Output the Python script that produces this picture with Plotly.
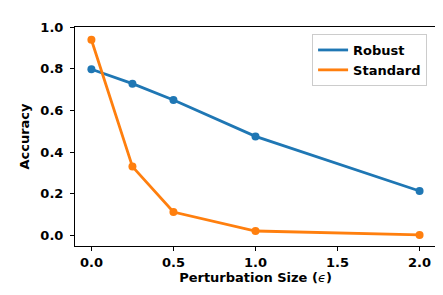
import plotly.graph_objects as go

eps = [0.0, 0.25, 0.5, 1.0, 2.0]
robust = [0.797, 0.728, 0.650, 0.475, 0.213]
standard = [0.939, 0.330, 0.112, 0.021, 0.002]
series_names = ["Robust", "Standard"]
colors = ["#1f77b4", "#ff7f0e"]
xticks = [0.0, 0.5, 1.0, 1.5, 2.0]
yticks = [0.0, 0.2, 0.4, 0.6, 0.8, 1.0]

fig = go.Figure()
for name, ys, c in zip(series_names, [robust, standard], colors):
    fig.add_trace(go.Scatter(x=eps, y=ys, mode="lines", name=name,
                             line=dict(color=c, width=2.8)))
    fig.add_trace(go.Scatter(x=eps, y=ys, mode="markers", showlegend=False,
                             marker=dict(color=c, size=8, line=dict(width=0))))

font = dict(family="DejaVu Sans", size=13, color="black", weight="bold")
axis_common = dict(showline=True, linecolor="black", linewidth=1, mirror=True,
                   ticks="outside", ticklen=4, tickwidth=1, tickcolor="black",
                   showgrid=False, zeroline=False, tickfont=font)
fig.update_layout(
    width=443, height=295,
    margin=dict(l=67, r=15, t=19, b=57),
    paper_bgcolor="white", plot_bgcolor="white",
    font=font,
    xaxis=dict(range=[-0.1, 2.1], tickvals=xticks,
               ticktext=[f"{v:.1f}" for v in xticks],
               title=dict(text="Perturbation Size (<span style='font-weight:normal'><i>ϵ</i></span>)",
                          font=font, standoff=3),
               **axis_common),
    yaxis=dict(range=[-0.051, 1.0], tickvals=yticks,
               ticktext=[f"{v:.1f}" for v in yticks],
               ticklabelstandoff=4,
               title=dict(text="Accuracy", font=font, standoff=7),
               **axis_common),
    legend=dict(x=0.816, y=0.968, xanchor="center", yanchor="top",
                bgcolor="rgba(255,255,255,0.8)", bordercolor="#cccccc", borderwidth=1,
                font=font, itemwidth=30, tracegroupgap=0),
    showlegend=True,
)
fig.write_html("out.html")
